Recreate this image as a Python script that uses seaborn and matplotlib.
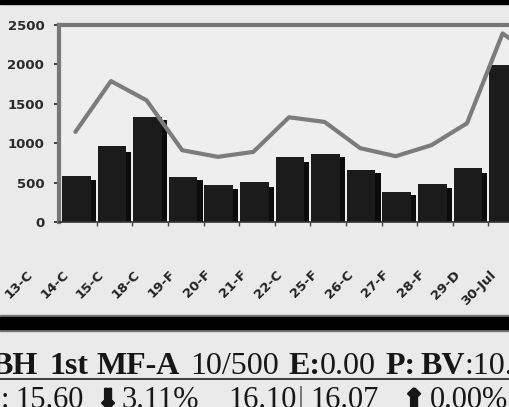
import numpy as np
import pandas as pd
import matplotlib
matplotlib.use('Agg')
import matplotlib.pyplot as plt
import seaborn as sns
from matplotlib.patches import Rectangle
from matplotlib.lines import Line2D
from matplotlib.transforms import ScaledTranslation
import matplotlib.patheffects as pe

# data
days = ['13-C', '14-C', '15-C', '18-C', '19-F', '20-F', '21-F',
        '22-C', '25-F', '26-C', '27-F', '28-F', '29-D', '30-Jul']
vol_front = [582, 962, 1333, 570, 468, 510, 827, 861, 658, 384, 481, 687, 1987, 1700]
vol_back = [532, 886, 1291, 532, 418, 447, 763, 823, 620, 342, 430, 624, 1900, 1650]
avg_vol = [1143, 1788, 1544, 911, 827, 890, 1329, 1270, 937, 835, 975, 1253, 2392, 2080]
y_ticks = [0, 500, 1000, 1500, 2000, 2500]

# text strip under the chart
line1 = [(-9, [('BH', 'bold')]), (50, [('1st', 'bold')]), (97, [('MF-A', 'bold')]),
         (190, [('10/500', 'normal')]), (288, [('E:', 'bold'), ('0.00', 'normal')]),
         (385, [('P:', 'bold')]), (420, [('BV', 'bold'), (':10.', 'normal')])]
line2 = [(1, [(':', 'normal')]), (15, [('15.60', 'normal')]), (97, [('⇓', 'bold')]),
         (122, [('3.11%', 'normal')]), (228, [('16.10', 'normal')]), (298, [('|', 'normal')]),
         (310, [('16.07', 'normal')]), (403, [('⇑', 'bold')]), (430, [('0.00%', 'normal')])]

df = pd.DataFrame({'day': days, 'front': vol_front, 'back': vol_back, 'avg': avg_vol})
df['pos'] = np.arange(len(df))
n = len(df)

sns.set_style('white', {'axes.facecolor': '#eeeeee', 'figure.facecolor': '#eaeaea'})

W, H = 510, 407
fig = plt.figure(figsize=(W / 100, H / 100), dpi=100)
ax = fig.add_axes([59 / W, (H - 222) / H, 35.6 * 15 / W, (222 - 25) / H])

sns.barplot(data=df, x='pos', y='back', native_scale=True, width=0.95, color='#0b0b0b',
            saturation=1, errorbar=None, edgecolor='none', ax=ax)
sns.barplot(data=df, x='pos', y='front', native_scale=True, width=0.8, color='#1b1b1b',
            saturation=1, errorbar=None, edgecolor='none', ax=ax)
for p in ax.patches[n:]:
    p.set_x(p.get_x() - 0.075)

sns.lineplot(x=df['pos'] - 0.1, y=df['avg'], color='#7c7c7c', lw=3, ax=ax)

ax.set_xlim(-0.56, 14.44)
ax.set_ylim(0, 2500)
ax.set_xlabel('')
ax.set_ylabel('')

ax.set_yticks(y_ticks)
ax.set_yticklabels([str(v) for v in y_ticks], fontsize=9.5, fontweight='bold',
                   color='#2a2a2a', family='DejaVu Sans')
ax.tick_params(axis='y', left=True, length=3.6, width=1.3, pad=7, color='#333333')

ax.set_xticks(df['pos'])
ax.set_xticklabels(df['day'], fontsize=9.5, fontweight='bold', color='#222222')
ax.set_xticks(df['pos'] + 0.5, minor=True)
ax.tick_params(axis='x', which='major', bottom=False, length=0, pad=4)
ax.tick_params(axis='x', which='minor', bottom=True, length=3, width=1, color='#444444')
shift = ScaledTranslation(-0.48, -0.45, fig.dpi_scale_trans)
for lbl in ax.get_xticklabels():
    lbl.set_rotation(45)
    lbl.set_ha('right')
    lbl.set_va('center')
    lbl.set_rotation_mode('anchor')
    lbl.set_transform(lbl.get_transform() + shift)

for side in ['top', 'left']:
    ax.spines[side].set_color('#777777')
    ax.spines[side].set_linewidth(3)
ax.spines['right'].set_visible(False)
ax.spines['bottom'].set_color('#333333')
ax.spines['bottom'].set_linewidth(1.2)

# frame bands
fig.add_artist(Rectangle((0, (H - 4) / H), 1, 4 / H, transform=fig.transFigure,
                         color='black', zorder=5))
fig.add_artist(Rectangle((0, (H - 331) / H), 1, 16 / H, transform=fig.transFigure,
                         color='#777777', zorder=5))
fig.add_artist(Rectangle((0, (H - 329) / H), 1, 12 / H, transform=fig.transFigure,
                         color='black', zorder=6))
fig.add_artist(Line2D([0, 1], [(H - 379) / H] * 2, transform=fig.transFigure,
                      color='#222222', lw=1.2))

renderer = fig.canvas.get_renderer()
serif = ['Liberation Serif', 'DejaVu Sans']


def draw_runs(groups, y_px, size):
    for x_px, runs in groups:
        x = x_px
        for txt, weight in runs:
            arrow = txt in ('⇓', '⇑')
            t = fig.text(x / W, (H - y_px) / H, txt, fontsize=19 if arrow else size,
                         fontweight=weight, family=serif, ha='left', va='baseline',
                         color='#555555' if txt == '|' else '#161616')
            if arrow:
                t.set_path_effects([pe.withStroke(linewidth=1.6, foreground='#161616')])
            x = t.get_window_extent(renderer).x1


draw_runs(line1, 374, 23)
draw_runs(line2, 408, 22)

fig.savefig('out.png', dpi=100)
